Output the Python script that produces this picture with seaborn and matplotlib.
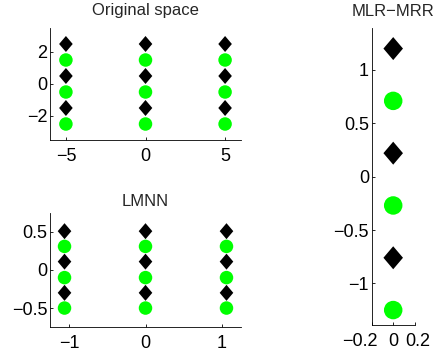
import numpy as np
import matplotlib
matplotlib.use("Agg")
import matplotlib.pyplot as plt
import matplotlib.transforms as mtransforms
import seaborn as sns
import pandas as pd

# 数据：三个子图中两类点的坐标
orig_x = [-5, 0, 5]
orig_diamond_y = [2.5, 0.5, -1.5]
orig_circle_y = [1.5, -0.5, -2.5]

lmnn_x = [-1.06, 0.0, 1.06]
lmnn_diamond_y = [0.51, 0.11, -0.30]
lmnn_circle_y = [0.31, -0.10, -0.50]

mlr_x = [0.0]
mlr_diamond_y = [1.20, 0.22, -0.76]
mlr_circle_y = [0.71, -0.27, -1.25]

# 刻度
orig_xticks = [-5, 0, 5]
orig_yticks = [-2, 0, 2]
lmnn_xticks = [-1, 0, 1]
lmnn_yticks = [-0.5, 0, 0.5]
mlr_xticks = [-0.2, 0, 0.2]
mlr_yticks = [-1, -0.5, 0, 0.5, 1]

sns.set_style("ticks")
plt.rcParams['font.family'] = ['Liberation Sans', 'DejaVu Sans']
plt.rcParams['font.size'] = 12

GREEN = '#00ff00'
DIAMOND = [(0, 1), (0.85, 0), (0, -1), (-0.85, 0), (0, 1)]


def fmt(v):
    s = ('%g' % v)
    return s.replace('-', '\u2212')


def make_df(xs, dy, cy):
    rows = []
    for x in xs:
        for y in dy:
            rows.append((x, y, 'd'))
        for y in cy:
            rows.append((x, y, 'c'))
    return pd.DataFrame(rows, columns=['x', 'y', 'cls'])


def draw(ax, df, circ_px, diam_px, xlim, ylim, xticks, yticks, title, pad):
    d = df[df.cls == 'd']
    c = df[df.cls == 'c']
    sns.scatterplot(data=d, x='x', y='y', ax=ax, marker=DIAMOND, color='black',
                    s=(diam_px * 0.72) ** 2, linewidth=0, edgecolor='none')
    sns.scatterplot(data=c, x='x', y='y', ax=ax, marker='o', color=GREEN,
                    s=(circ_px * 0.72) ** 2, linewidth=0, edgecolor='none')
    ax.set_xlim(xlim)
    ax.set_ylim(ylim)
    ax.set_xticks(xticks)
    ax.set_xticklabels([fmt(v) for v in xticks])
    ax.set_yticks(yticks)
    ax.set_yticklabels([fmt(v) for v in yticks])
    ax.set_xlabel('')
    ax.set_ylabel('')
    ax.set_title(title, fontsize=12, pad=pad)
    sns.despine(ax=ax)
    for s in ['left', 'bottom']:
        ax.spines[s].set_linewidth(0.6)
        ax.spines[s].set_color('black')
    ax.tick_params(direction='in', length=2.5, width=0.6, labelsize=13,
                   colors='black')
    ax.tick_params(axis='x', pad=6)
    ax.tick_params(axis='y', pad=2)
    for coll in ax.collections:
        coll.set_clip_on(False)


fig = plt.figure(figsize=(4.4, 3.54), dpi=100)
ax1 = fig.add_axes([50 / 440, 1 - 140 / 354, 191 / 440, 112 / 354])
ax2 = fig.add_axes([50 / 440, 1 - 326.7 / 354, 191 / 440, 113.4 / 354])
ax3 = fig.add_axes([371.7 / 440, 1 - 325 / 354, 43 / 440, 296.7 / 354])

draw(ax1, make_df(orig_x, orig_diamond_y, orig_circle_y), 13.5, 16,
     (-6, 6), (-3.5, 3.5), orig_xticks, orig_yticks, 'Original space', 9)
draw(ax2, make_df(lmnn_x, lmnn_diamond_y, lmnn_circle_y), 13.5, 16,
     (-1.25, 1.25), (-0.745, 0.745), lmnn_xticks, lmnn_yticks, 'LMNN', 5)
draw(ax3, make_df(mlr_x, mlr_diamond_y, mlr_circle_y), 18.5, 23,
     (-0.2, 0.2), (-1.39, 1.39), mlr_xticks, mlr_yticks, 'MLR\u2212MRR', 9)

# 右图的x刻度标签错开，避免重叠
labs = ax3.get_xticklabels()
labs[0].set_transform(labs[0].get_transform() +
                      mtransforms.ScaledTranslation(-12 / 100, 0, fig.dpi_scale_trans))
labs[2].set_transform(labs[2].get_transform() +
                      mtransforms.ScaledTranslation(3 / 100, 0, fig.dpi_scale_trans))

fig.savefig('out.png', dpi=100)
